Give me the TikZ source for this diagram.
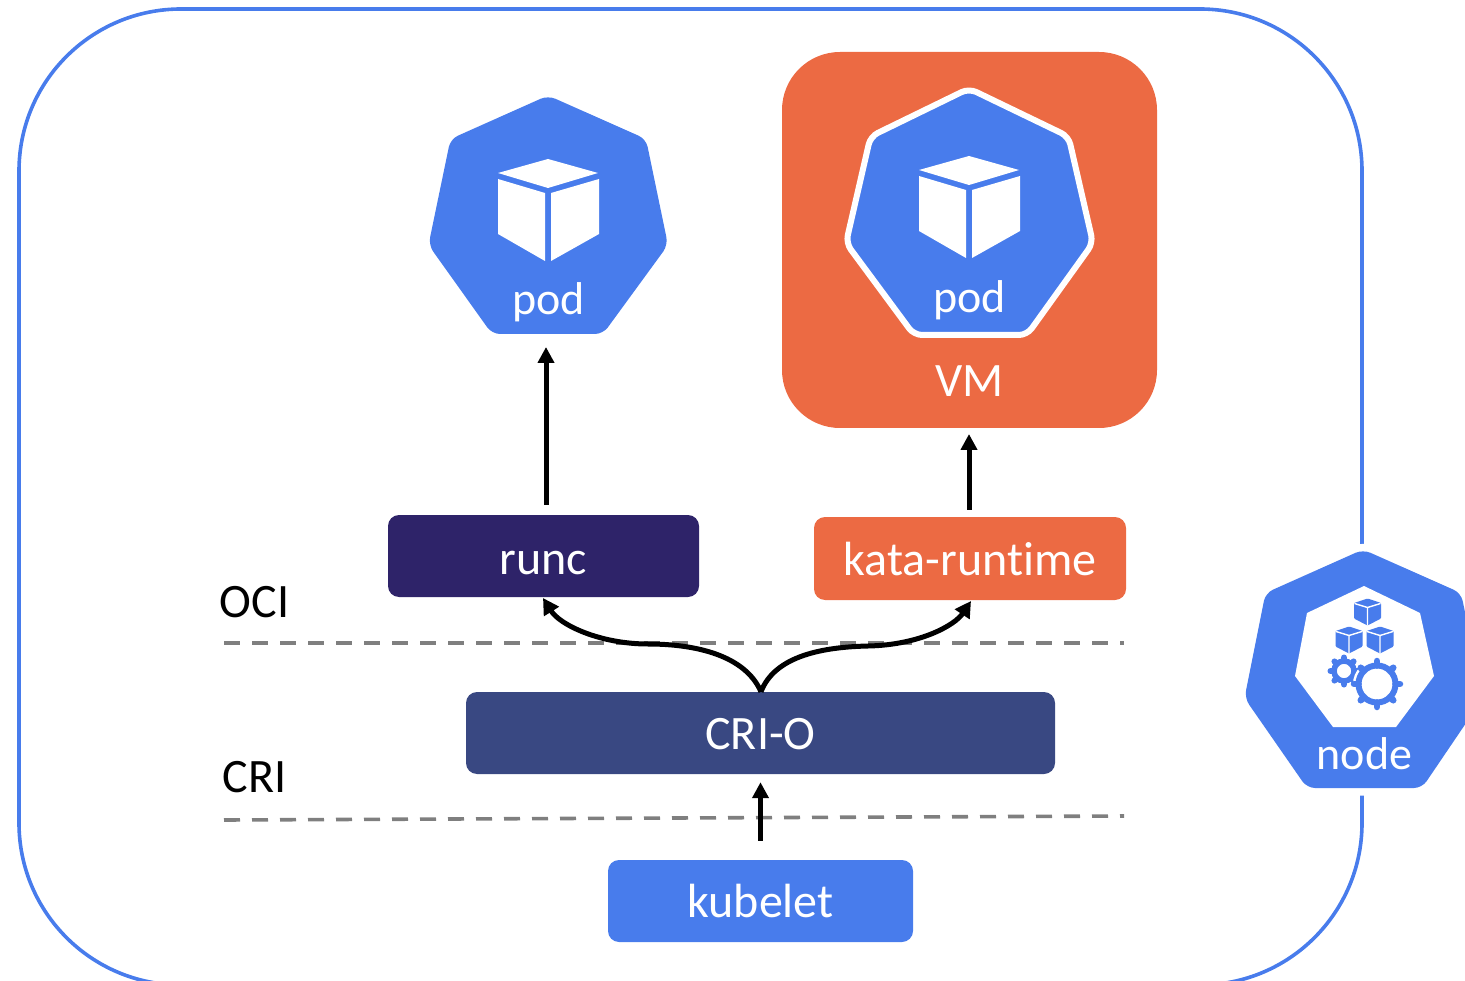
\documentclass[tikz,border=0pt]{standalone}
\usepackage{fontspec}
\setmainfont{Carlito}[RawFeature={-liga}]
\usetikzlibrary{arrows.meta}
\definecolor{kblue}{HTML}{487CEC}
\definecolor{korange}{HTML}{EC6A43}
\definecolor{kpurple}{HTML}{2E2369}
\definecolor{kindigo}{HTML}{394882}
\definecolor{kgray}{HTML}{7F7F7F}
\tikzset{
  x=1pt,y=-1pt,
  boxstyle/.style={rounded corners=11pt,text=white,font=\fontsize{48}{48}\selectfont,inner sep=0pt,anchor=center,text height=33pt,text depth=0pt},
  lbl/.style={text=black,font=\fontsize{48}{48}\selectfont,inner sep=0pt},
  wlbl/.style={text=white,font=\fontsize{46}{46}\selectfont,inner sep=0pt},
  heptfill/.style={fill=kblue,rounded corners=8pt},
  dashline/.style={draw=kgray,line width=3.6pt,dash pattern=on 16pt off 12pt},
  arr/.style={draw=black,line width=5pt,-{Triangle[length=16pt,width=16pt]}},
  region/.style={inner sep=0pt,outer sep=0pt},
}
\newcommand{\podcube}[2]{%
  \begin{scope}[shift={(#1,#2)}]
    \fill[white] (0,0) -- (50,14) -- (0,29) -- (-50,14) -- cycle;
    \fill[white] (-50,20) -- (-3,34) -- (-3,102) -- (-50,75) -- cycle;
    \fill[white] (3,34) -- (51,20) -- (51,75) -- (3,102) -- cycle;
  \end{scope}}
\newcommand{\smallcube}[2]{%
  \begin{scope}[shift={(#1,#2)}]
    \fill[kblue,rounded corners=1pt] (0,-13.5) -- (13.5,-9) -- (13.5,6.5) -- (0,13.5) -- (-13.5,6.5) -- (-13.5,-9) -- cycle;
    \draw[white,line width=1.4pt] (-13,-8.5) -- (0,-4.5) -- (13,-8.5) (0,-4.5) -- (0,13);
  \end{scope}}
\newcommand{\gearshape}[7]{% x y rmid lw toothend teeth toothwidth
  \draw[kblue,line width=#4pt] (#1,#2) circle[radius=#3];
  \foreach \a in {1,...,#6}{
    \draw[kblue,line width=#7pt,line cap=round] ({#1+#3*cos(\a*360/#6)},{#2+#3*sin(\a*360/#6)}) -- ({#1+#5*cos(\a*360/#6)},{#2+#5*sin(\a*360/#6)});
  }}
\begin{document}
\begin{tikzpicture}
\useasboundingbox (0,0) rectangle (1465,981);
\clip (0,0) rectangle (1465,981);
% node frame
\draw[draw=kblue,line width=3.6pt,rounded corners=162pt] (19,9) rectangle (1362,985);
% dashed interfaces
\coordinate (ociL) at (224,643); \coordinate (ociR) at (1124,643);
\coordinate (criL) at (224,820); \coordinate (criR) at (1124,816);
\draw[dashline] (ociL) -- (ociR);
\draw[dashline] (criL) -- (criR);
% VM
\fill[korange,rounded corners=58pt] (782,52) rectangle (1157,428);
\node[region,minimum width=375pt,minimum height=376pt] (vm) at (969.5,240) {};
% pod 1
\node[region,minimum width=237pt,minimum height=236pt] (podA) at (548,215) {};
\fill[heptfill] (548,95.5) -- (646,139) -- (668,245) -- (603,334) -- (492,334) -- (428.5,245) -- (450.5,139) -- cycle;
\podcube{548}{159}
\node[wlbl,text height=30pt,text depth=0pt,anchor=center] (podAtext) at (548.5,300) {pod};
% pod 2
\draw[heptfill,draw=white,line width=6pt] (969,88.5) -- (1068.5,136.5) -- (1093,243) -- (1027,335) -- (914,335) -- (846,243) -- (870.5,136.5) -- cycle;
\podcube{969}{156}
\node[wlbl,text height=30pt,text depth=0pt,anchor=center] (podBtext) at (969.5,298) {pod};
\node[wlbl,font=\fontsize{48}{48}\selectfont] (vmtext) at (969.5,381) {VM};
% boxes
\node[boxstyle,fill=kpurple,minimum width=311pt,minimum height=82pt,text height=37pt] (runc) at (543.5,556) {runc};
\node[boxstyle,fill=korange,minimum width=312pt,minimum height=83pt] (kata) at (970,558.5) {kata-runtime};
\node[boxstyle,fill=kindigo,minimum width=589pt,minimum height=82pt] (crio) at (760.5,733) {CRI-O};
\node[boxstyle,fill=kblue,minimum width=305pt,minimum height=82pt] (kubelet) at (760.5,901) {kubelet};
% labels
\node[lbl] (oci) at (254.5,602) {OCI};
\node[lbl] (cri) at (254.5,777) {CRI};
% connectors
\draw[arr,shorten >=14pt,shorten <=10pt] (runc.north -| 546,0) -- (podA.south -| 546,0);
\draw[arr,shorten >=6pt,shorten <=7pt] (kata.north -| 969,0) -- (vm.south -| 969,0);
\draw[arr,shorten >=8pt,shorten <=19pt] (kubelet.north -| 760.5,0) -- (crio.south -| 760.5,0);
\coordinate (midL) at (648,644);
\coordinate (midR) at (868,646);
\draw[draw=black,line width=5pt,-{Triangle[length=16pt,width=17pt]}] (crio.north -| 761,0) .. controls (745,655) and (695,644) .. (midL) .. controls (600,644) and (560,625) .. (543,598);
\draw[draw=black,line width=5pt,-{Triangle[length=16pt,width=17pt]}] (crio.north -| 761,0) .. controls (775,655) and (825,647) .. (midR) .. controls (920,645) and (955,625) .. (971,601);
% node icon
\fill[heptfill,preaction={draw=white,line width=15pt}] (1363,549.5) -- (1461,593) -- (1483,698) -- (1422,788) -- (1307,788) -- (1244.5,698) -- (1265.5,593) -- cycle;
\fill[white] (1364,586) -- (1420,613) -- (1434,676) -- (1396,727) -- (1333,727) -- (1295,676) -- (1307,613) -- cycle;
\smallcube{1367.5}{612}
\smallcube{1349}{640}
\smallcube{1380}{640}
\gearshape{1344}{671}{10}{5.5}{13.5}{8}{6}
\fill[white] (1377,684) circle[radius=24];
\gearshape{1377}{684}{18.5}{6}{23}{8}{6.5}
\node[wlbl] (nodetext) at (1364.5,754) {node};
\end{tikzpicture}
\end{document}
